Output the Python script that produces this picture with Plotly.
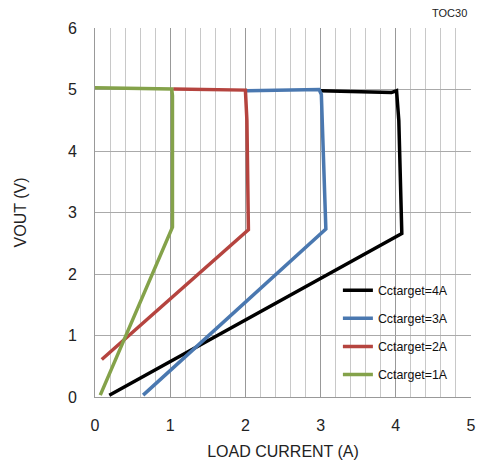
import plotly.graph_objects as go

# Data
names = ["Cctarget=4A", "Cctarget=3A", "Cctarget=2A", "Cctarget=1A"]
colors = ["#000000", "#4a78b0", "#b5443f", "#84a24a"]

i4_x = [3.00, 3.94, 4.01, 4.04, 4.08, 0.19]
i4_y = [4.98, 4.95, 4.98, 4.50, 2.66, 0.03]

i3_x = [2.02, 2.98, 3.01, 3.04, 3.07, 0.64]
i3_y = [4.98, 5.00, 4.92, 4.00, 2.73, 0.03]

i2_x = [1.04, 2.00, 2.02, 2.04, 0.09]
i2_y = [5.01, 4.99, 4.50, 2.72, 0.61]

i1_x = [0.00, 1.02, 1.03, 1.03, 0.07]
i1_y = [5.03, 5.01, 4.90, 2.76, 0.03]

xs = [i4_x, i3_x, i2_x, i1_x]
ys = [i4_y, i3_y, i2_y, i1_y]

fig = go.Figure()
for n, c, x, y in zip(names, colors, xs, ys):
    fig.add_trace(go.Scatter(x=x, y=y, mode="lines", name=n, legendgroup=n,
                             line=dict(color=c, width=3.5)))

fig.update_layout(
    width=477, height=468,
    margin=dict(l=95, r=6, t=28, b=71, autoexpand=False),
    paper_bgcolor="white", plot_bgcolor="white",
    font=dict(family="Liberation Sans, Arial, sans-serif", size=16, color="#222"),
    showlegend=True,
    legend=dict(x=0.646, y=0.329, xanchor="left", yanchor="top",
                bgcolor="rgba(0,0,0,0)", borderwidth=0,
                font=dict(size=12.4, color="#111"),
                traceorder="grouped", tracegroupgap=9, itemwidth=30),
    shapes=[dict(type="rect", xref="paper", yref="paper",
                 x0=0.614, x1=0.989, y0=0.011, y1=0.328,
                 fillcolor="white", line=dict(width=0), layer="between")],
    annotations=[dict(text="TOC30", xref="paper", yref="paper", x=0.995, y=1.04,
                      xanchor="right", yanchor="middle", showarrow=False,
                      font=dict(size=11, color="#222"))],
)

fig.update_xaxes(
    range=[0, 5], dtick=1, tick0=0,
    showgrid=True, gridcolor="#999999", gridwidth=1,
    minor=dict(dtick=0.2, showgrid=True, gridcolor="#c8c8c8", gridwidth=1),
    showline=True, linecolor="#999999", linewidth=1, mirror=False,
    zeroline=False, ticks="", ticklabelstandoff=14,
    title=dict(text="LOAD CURRENT (A)", standoff=12, font=dict(size=16)),
)
fig.update_yaxes(
    range=[0, 6], dtick=1, tick0=0,
    showgrid=True, gridcolor="#aaaaaa", gridwidth=1,
    showline=True, linecolor="#999999", linewidth=1,
    zeroline=False, ticks="", ticklabelstandoff=14,
    title=dict(text="VOUT (V)", standoff=37, font=dict(size=16)),
)

fig.write_html(
    "out.html",
    config={"displayModeBar": False},
    post_script="document.body.style.margin='0';document.body.style.overflow='hidden';",
)
